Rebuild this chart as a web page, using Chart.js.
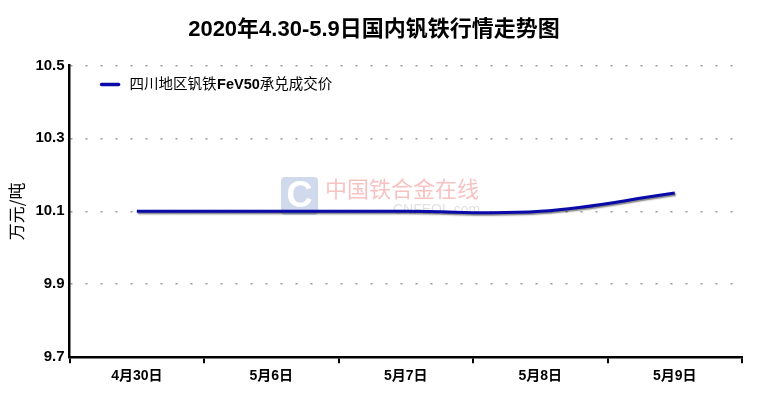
<!DOCTYPE html>
<html>
<head>
<meta charset="utf-8">
<script src="https://cdn.jsdelivr.net/npm/chart.js@4"></script>
<style>
  html, body { margin: 0; padding: 0; background: #fff; }
  #wrap { width: 760px; height: 394px; }
</style>
</head>
<body>
<div id="wrap"><canvas id="chart" width="760" height="394"></canvas></div>
<script>
const dates = ['4月30日', '5月6日', '5月7日', '5月8日', '5月9日'];
const prices = [10.1, 10.1, 10.1, 10.1, 10.15];
const seriesName = '四川地区钒铁FeV50承兑成交价';
const yTicks = [9.7, 9.9, 10.1, 10.3, 10.5];

const FONT = '"Liberation Sans", Arial, "Noto Sans CJK SC", sans-serif';

// faint site watermark behind the line
const watermark = {
    id: 'watermark',
    beforeDatasetsDraw(chart) {
        const ctx = chart.ctx;
        ctx.save();
        ctx.fillStyle = 'rgba(120,150,200,0.35)';
        ctx.beginPath();
        ctx.roundRect(281, 177, 37, 38, 4);
        ctx.fill();
        ctx.fillStyle = '#fff';
        ctx.font = 'bold 36px ' + FONT;
        ctx.textAlign = 'center';
        ctx.textBaseline = 'middle';
        ctx.fillText('C', 299.5, 197);
        ctx.fillStyle = 'rgba(235,120,120,0.45)';
        ctx.font = '22px "Noto Sans CJK SC", sans-serif';
        ctx.textAlign = 'left';
        ctx.fillText('中国铁合金在线', 325, 189);
        ctx.fillStyle = 'rgba(170,170,170,0.35)';
        ctx.font = '14px ' + FONT;
        ctx.fillText('CNFEOL.com', 393, 210);
        ctx.restore();
    }
};

// grey drop shadow under the price line
const lineShadow = {
    id: 'lineShadow',
    beforeDatasetDraw(chart) {
        const ctx = chart.ctx;
        ctx.save();
        ctx.shadowColor = 'rgba(0,0,0,0.5)';
        ctx.shadowOffsetX = 1;
        ctx.shadowOffsetY = 1.5;
        ctx.shadowBlur = 1.5;
    },
    afterDatasetDraw(chart) {
        chart.ctx.restore();
    }
};

// legend inside the plot, top-left; latin part of the label is bold
const insideLegend = {
    id: 'insideLegend',
    afterDatasetsDraw(chart) {
        const ctx = chart.ctx;
        const area = chart.chartArea;
        const ds = chart.data.datasets[0];
        let x = area.left + 32;
        const y = area.top + 19;
        ctx.save();
        ctx.strokeStyle = ds.borderColor;
        ctx.lineWidth = 3.5;
        ctx.lineCap = 'round';
        ctx.beginPath();
        ctx.moveTo(x, y);
        ctx.lineTo(x + 17, y);
        ctx.stroke();
        ctx.fillStyle = '#000';
        ctx.textBaseline = 'middle';
        x += 28;
        ds.label.split(/([A-Za-z0-9]+)/).forEach(part => {
            if (!part) return;
            const latin = /^[A-Za-z0-9]+$/.test(part);
            ctx.font = (latin ? 'bold ' : '') + '14.5px ' + FONT;
            ctx.fillText(part, x, y + 1);
            x += ctx.measureText(part).width + (latin ? 0 : 0.5);
        });
        ctx.restore();
    }
};

new Chart(document.getElementById('chart'), {
    type: 'line',
    data: {
        labels: dates,
        datasets: [{
            label: seriesName,
            data: prices,
            borderColor: '#0a0aa8',
            backgroundColor: '#0a0aa8',
            borderWidth: 3,
            pointRadius: 0,
            tension: 0.4
        }]
    },
    options: {
        responsive: false,
        animation: false,
        layout: { padding: { left: 6, right: 18, top: 0, bottom: 4 } },
        scales: {
            x: {
                offset: true,
                grid: {
                    offset: true,
                    drawOnChartArea: false,
                    drawTicks: true,
                    tickLength: 6,
                    color: '#000',
                    lineWidth: 2
                },
                border: { color: '#000', width: 2.5 },
                ticks: {
                    color: '#000',
                    font: { family: FONT, size: 14, weight: 'bold' },
                    padding: 5,
                    maxRotation: 0
                }
            },
            y: {
                min: 9.7,
                max: 10.5,
                afterBuildTicks(axis) {
                    axis.ticks = yTicks.map(v => ({ value: v }));
                },
                grid: {
                    color: '#999',
                    lineWidth: 1.5,
                    drawTicks: false
                },
                border: { color: '#000', width: 2.5, dash: [2, 13] },
                ticks: {
                    color: '#000',
                    font: { family: FONT, size: 15, weight: 'bold' },
                    padding: 5,
                    callback: v => v.toFixed(1)
                },
                title: {
                    display: true,
                    text: '万元/吨',
                    color: '#000',
                    font: { family: '"Noto Sans CJK SC", sans-serif', size: 17 },
                    padding: { top: 0, bottom: 4 }
                }
            }
        },
        plugins: {
            title: {
                display: true,
                text: '2020年4.30-5.9日国内钒铁行情走势图',
                color: '#000',
                font: { family: FONT, size: 22, weight: 'bold' },
                padding: { top: 17, bottom: 22 }
            },
            legend: { display: false },
            tooltip: { enabled: false }
        }
    },
    plugins: [watermark, lineShadow, insideLegend]
});
</script>
</body>
</html>
